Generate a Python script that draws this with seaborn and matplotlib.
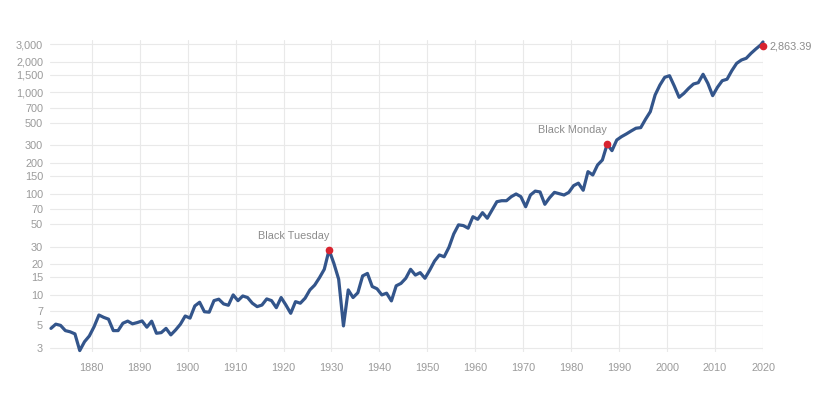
import matplotlib
matplotlib.use("Agg")
import matplotlib.pyplot as plt
import matplotlib.ticker as mticker
import seaborn as sns
import pandas as pd

# S&P 500, annual points
years = [y + 0.5 for y in range(1871, 2020)] + [2020.0]
values = [
    # 1871-1911
    4.67, 5.14, 5.0, 4.44, 4.32, 4.12, 2.82, 3.45, 3.93, 4.86,
    6.33, 6.0, 5.76, 4.44, 4.44, 5.25, 5.51, 5.18, 5.33, 5.53,
    4.8, 5.5, 4.18, 4.24, 4.67, 4.03, 4.51, 5.14, 6.19, 5.9,
    7.78, 8.46, 6.82, 6.75, 8.78, 9.07, 8.15, 7.9, 10.0, 8.78,
    9.76,
    # 1912-1952
    9.42, 8.28, 7.66, 7.94, 9.13, 8.78, 7.48, 9.42, 7.94, 6.58,
    8.58, 8.28, 9.28, 11.2, 12.5, 14.8, 17.9, 27.8, 20.5, 14.3,
    4.94, 11.2, 9.42, 10.5, 15.4, 16.3, 12.1, 11.5, 10.0, 10.4,
    8.72, 12.3, 13.0, 14.6, 17.9, 15.7, 16.6, 14.6, 17.6, 21.6,
    24.8,
    # 1953-2019
    23.8, 29.5, 40.0, 49.2, 48.4, 45.6, 59.2, 55.8, 64.9, 57.2,
    69.0, 83.3, 85.2, 85.2, 93.4, 99.3, 93.4, 74.3, 97.0, 106.0,
    104.0, 78.5, 91.3, 103.0, 100.0, 97.0, 103.0, 120.0, 127.0, 108.0,
    165.0, 153.0, 192.0, 215.0, 308.0, 266.0, 339.0, 366.0, 389.0, 416.0,
    443.0, 449.0, 543.0, 646.0, 944.0, 1183.0, 1410.0, 1463.0, 1156.0, 895.0,
    979.0, 1098.0, 1211.0, 1248.0, 1511.0, 1230.0, 929.0, 1124.0, 1306.0, 1350.0,
    1641.0, 1937.0, 2091.0, 2174.0, 2433.0, 2685.0, 2940.0,
    # 2020
    3150.0,
]
events = ["Black Tuesday", "Black Monday"]
event_years = [1929, 1987]
last_year = 2020
last_value = 2863.39

y_ticks = [3, 5, 7, 10, 15, 20, 30, 50, 70, 100, 150, 200, 300, 500, 700,
           1000, 1500, 2000, 3000]
x_ticks = list(range(1880, 2021, 10))

df = pd.DataFrame({"Year": years, "Value": values})

sns.set_style("whitegrid")
plt.rcParams["font.family"] = ["Liberation Sans", "DejaVu Sans"]

line_color = "#33558b"
dot_color = "#d8232f"
text_color = "#8c8c8c"
tick_color = "#9a9a9a"

fig = plt.figure(figsize=(8.28, 3.98), dpi=100)
ax = fig.add_axes([0.0604, 0.1156, 0.8611, 0.7839])

sns.lineplot(data=df, x="Year", y="Value", ax=ax, color=line_color,
             linewidth=2.3, clip_on=False, zorder=3)

ax.set_yscale("log")
ax.set_xlim(1871.3, 2019.9)
ax.set_ylim(2.73, 3295)
ax.yaxis.set_major_locator(mticker.FixedLocator(y_ticks))
ax.yaxis.set_minor_locator(mticker.NullLocator())
ax.yaxis.set_major_formatter(mticker.FuncFormatter(lambda v, p: f"{v:,.0f}"))
ax.set_xticks(x_ticks)
ax.xaxis.set_minor_locator(mticker.NullLocator())

ax.grid(True, color="#e9e9e9", linewidth=0.8)
for s in ax.spines.values():
    s.set_visible(False)
ax.tick_params(axis="both", length=0, labelsize=7.8, labelcolor=tick_color)
ax.tick_params(axis="y", pad=5)
ax.tick_params(axis="x", pad=8)
ax.set_xlabel("")
ax.set_ylabel("")

# event markers
for name, yr in zip(events, event_years):
    i = yr - 1871
    ax.plot(years[i], values[i], "o", color=dot_color, markersize=4.5,
            zorder=4)
    ax.annotate(name, (years[i], values[i]), xytext=(0, 10),
                textcoords="offset points", ha="right", va="center",
                fontsize=7.8, color=text_color)

ax.plot(last_year, last_value, "o", color=dot_color, markersize=4.5,
        zorder=5, clip_on=False)
ax.annotate(f"{last_value:,.2f}", (last_year, last_value), xytext=(5, 0),
            textcoords="offset points", ha="left", va="center",
            fontsize=7.8, color=text_color, annotation_clip=False)

fig.savefig("out.png", dpi=100)
